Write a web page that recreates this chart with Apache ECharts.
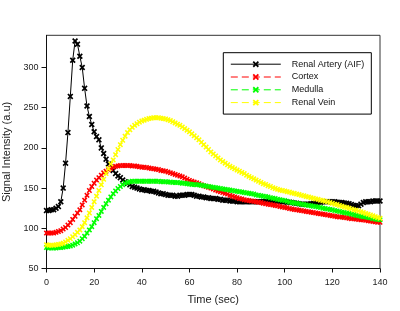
<!DOCTYPE html>
<html>
<head>
<meta charset="utf-8">
<script src="https://cdn.jsdelivr.net/npm/echarts@6/dist/echarts.min.js"></script>
<style>
html,body{margin:0;padding:0;background:#fff;}
#chart{width:400px;height:311px;}
</style>
</head>
<body>
<div id="chart"></div>
<script>
// Sampling: one sample per second, starting at t = 0 s
const timeStep = 1;

const seriesNames = ['Renal Artery (AIF)', 'Cortex', 'Medulla', 'Renal Vein'];

const renalArtery = [
  122,122,123,123,125,127,133,150,181,219,
  264,309,333,329,314,300,274,252,239,229,
  220,214,210,200,193,186,180,176,172,168,
  165,163,160,158,156,154,152,151,150,149,
  148,148,147,147,146,146,145,144,143,143,
  142,141,141,141,140,140,141,141,141,142,
  142,142,141,140,140,139,139,138,138,137,
  137,137,136,136,135,135,135,134,134,134,
  133,133,133,133,133,133,133,133,133,133,
  133,133,133.5,133.5,134,134,134,133.5,133.5,133,
  133,132.5,132.5,132,131.5,131,130.5,130,130,130,
  130,130.5,131,131.5,132,132.5,133,133,133,133,
  133,133,132.5,132,132,131.5,131,130.5,129.5,128.5,
  128,128,130,132,133,133,133,134,134,134,
  134
];

const cortex = [
  94,94,94,94,95,96,97,99,101,104,
  107,111,115,119,123,129,135,141,147,152,
  156,160,163,166,169,171,173,174.5,176,177,
  177.5,178,178,178,178,178,177.5,177.5,177,176.5,
  176,176,175.5,175,174.5,174,173.5,173,172,171.5,
  171,170,169,168,167,166,165,164,162.5,161,
  159.5,158.5,157.5,156.5,155.5,154,153,152,151,150,
  149,147.5,146.5,145.5,144.5,143.5,142.5,141,140,139,
  138,137,136.5,135.5,135,134.5,134,133.5,133,132.5,
  132,131,130.5,130,129.5,129,128.5,128,127,126.5,
  126,125.5,124.5,124,123.5,123,122.5,122,121.5,121,
  120.5,120,119.5,119,118.5,118,117.5,117,116.5,116,
  115.5,115,114.5,114,114,113.5,113,112.5,112,112,
  111.5,111,110.5,110.5,110,109.5,109,108.5,108,107.5,
  107.5
];

const medulla = [
  76,75.5,75.5,75.5,75.5,76,76,76.5,77,77.5,
  78,79,80.5,82,84,87,90,94,98,102,
  107,112,116,121,126,130.5,135,139,143,146.5,
  149.5,152,154,156,157,158,158.5,158.5,158.5,158.5,
  158.5,158.5,158.5,158.5,158.5,158.5,158.5,158.5,158,158,
  158,157.5,157.5,157,157,157,156.5,156,156,155.5,
  155,154.5,154.5,154,154,153.5,153,152.5,152,151.5,
  151,150.5,150,149.5,149,148.5,148,147.5,147,146.5,
  146,145.5,145,144.5,144,143.5,143,142.5,141.5,141,
  140.5,140,139.5,139,138,137.5,137,136,135.5,135,
  134.5,133.5,132.5,132,131.5,131,130.5,130,129.5,129,
  128.5,128,127.5,127,126.5,126,125,124.5,124,123.5,
  123,122,121.5,121,120,119.5,119,118.5,117.5,117,
  116,115.5,115,114.5,114,113.5,113,112,111.5,111,
  110.5
];

const renalVein = [
  79.5,79,79,79,79.5,80,80.5,81.5,83,85,
  87,89.5,92,95,98,102,107,113,119,126,
  133,140,147,154,161,168,174,180,185,191.5,
  198,204,209.5,214.5,219,222.5,225.5,228,230,232,
  233.5,234.5,235.5,236.5,237,237.5,237.5,237.5,237,236.5,
  236,235,234,232.5,231,229.5,228,226,224,222,
  220,217.5,215,212.5,210,207,204,201,198,195,
  192.5,190,187.5,185,183,181,179,177,175.5,174,
  172.5,171,169.5,168,166,164.5,163,161.5,160,158.5,
  157,155.5,154.5,153,152,150.5,149.5,148.5,147.5,147,
  146.5,145.5,145,144,143.5,142.5,142,141,140.5,139.5,
  139,138,137.5,136.5,136,135,134.5,133.5,133,132,
  131,130,129.5,128.5,127.5,126.5,126,125,124,123,
  122.5,121.5,120.5,119.5,118.5,117.5,116.5,115.5,114.5,113.5,
  112.5
];

const xTicks = [0, 20, 40, 60, 80, 100, 120, 140];
const yTicks = [50, 100, 150, 200, 250, 300];

const colors = ['#000000', '#ff0000', '#00ff00', '#ffff00'];
const xSymbol = 'path://M2,0 L5,3 L8,0 L10,2 L7,5 L10,8 L8,10 L5,7 L2,10 L0,8 L3,5 L0,2 Z';

function toPairs(arr) {
  return arr.map(function (v, i) { return [i * timeStep, v]; });
}

const valueSets = [renalArtery, cortex, medulla, renalVein];

const series = valueSets.map(function (vals, k) {
  return {
    name: seriesNames[k],
    type: 'line',
    data: toPairs(vals),
    symbol: xSymbol,
    symbolSize: k === 0 ? 6 : 5.5,
    symbolKeepAspect: true,
    showAllSymbol: true,
    itemStyle: { color: colors[k] },
    lineStyle: {
      color: colors[k],
      width: 1,
      type: k === 0 ? 'solid' : [7, 4]
    },
    emphasis: { disabled: true }
  };
});

const fontFam = 'Liberation Sans, Arial, sans-serif';

const chart = echarts.init(document.getElementById('chart'), null, { renderer: 'canvas' });
chart.setOption({
  animation: false,
  backgroundColor: '#ffffff',
  grid: {
    left: 46.5, right: 20, top: 35.3, bottom: 42.5,
    containLabel: false,
    outerBoundsMode: 'none',
    show: true, borderColor: '#333', borderWidth: 1, backgroundColor: 'transparent'
  },
  legend: {
    data: seriesNames,
    orient: 'vertical',
    left: 223.3,
    top: 52.7,
    itemWidth: 50,
    itemHeight: 8,
    itemGap: 3.8,
    padding: [7, 7, 7, 7],
    borderColor: '#000',
    borderWidth: 1,
    backgroundColor: '#fff',
    lineStyle: { width: 1 },
    textStyle: { fontFamily: fontFam, fontSize: 9, color: '#111', padding: [0, 0, 0, 6] },
    selectedMode: false
  },
  xAxis: {
    type: 'value',
    min: 0, max: 140, interval: 20,
    name: 'Time (sec)',
    nameLocation: 'middle',
    nameGap: 26,
    nameTextStyle: { fontFamily: fontFam, fontSize: 11, color: '#222' },
    axisLine: { show: true, lineStyle: { color: '#111', width: 1 } },
    axisTick: { show: true, inside: false, length: 4, lineStyle: { color: '#111' }, customValues: xTicks },
    axisLabel: { fontFamily: fontFam, fontSize: 9, color: '#222', margin: 10, customValues: xTicks },
    splitLine: { show: false }
  },
  yAxis: {
    type: 'value',
    min: 50, max: 340, interval: 50,
    name: 'Signal Intensity (a.u)',
    nameLocation: 'middle',
    nameGap: 28,
    nameTextStyle: { fontFamily: fontFam, fontSize: 11, color: '#222' },
    axisLine: { show: true, lineStyle: { color: '#111', width: 1 } },
    axisTick: { show: true, inside: false, length: 5, lineStyle: { color: '#111' }, customValues: yTicks },
    axisLabel: { fontFamily: fontFam, fontSize: 9, color: '#222', margin: 8, customValues: yTicks },
    splitLine: { show: false }
  },
  series: series
});
</script>
</body>
</html>
